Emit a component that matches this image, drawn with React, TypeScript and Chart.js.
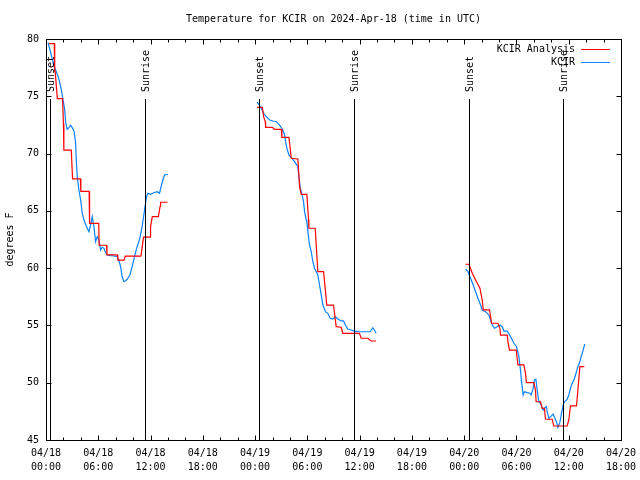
import React, { useEffect, useRef } from 'react';
import { Chart, registerables } from 'chart.js';

Chart.register(...registerables);

const titleText = 'Temperature for KCIR on 2024-Apr-18 (time in UTC)';
const yAxisLabel = 'degrees F';
const seriesLabels = ['KCIR Analysis', 'KCIR'];
const seriesColors = ['#ff0000', '#0a80ff'];

// x axis: hours since 04/18 00:00 UTC
const xMin = 0;
const xMax = 66;
const xTickDates = ['04/18', '04/18', '04/18', '04/18', '04/19', '04/19', '04/19', '04/19', '04/20', '04/20', '04/20', '04/20'];
const xTickTimes = ['00:00', '06:00', '12:00', '18:00', '00:00', '06:00', '12:00', '18:00', '00:00', '06:00', '12:00', '18:00'];
const yMin = 45;
const yMax = 80;

const sunEventLabels = ['Sunset', 'Sunrise', 'Sunset', 'Sunrise', 'Sunset', 'Sunrise'];
const sunEventHours = [0.46, 11.39, 24.46, 35.36, 48.55, 59.33];

// KCIR Analysis (red) – [hour, degF]
const analysisNight1 = [
  [0.35, 79.6], [0.95, 79.6], [1.0, 77.2], [1.05, 77.2], [1.3, 74.8], [1.9, 74.8], [2.0, 72.6], [2.05, 70.3],
  [2.9, 70.3], [3.05, 67.8], [3.95, 67.8], [4.0, 66.7], [4.95, 66.7], [5.0, 63.9], [6.05, 63.9], [6.1, 62.0],
  [6.95, 62.0], [7.0, 61.15], [8.2, 61.15], [8.25, 60.7], [8.95, 60.7], [9.1, 61.05], [10.9, 61.05], [11.2, 62.7],
  [11.95, 62.7], [12.0, 63.6], [12.2, 64.5], [12.9, 64.5], [13.1, 65.4], [13.15, 65.75], [13.95, 65.75],
];
const analysisNight2 = [
  [24.21, 74.04], [24.83, 74.04], [24.98, 73.22], [25.17, 72.78], [25.21, 72.29], [25.98, 72.29], [26.24, 72.12],
  [27.01, 72.12], [27.08, 71.42], [27.88, 71.42], [28.04, 70.4], [28.15, 69.59], [28.91, 69.53], [29.11, 67.11],
  [29.3, 66.44], [29.94, 66.44], [30.14, 64.2], [30.17, 63.48], [30.9, 63.48], [31.2, 59.69], [31.86, 59.69],
  [32.23, 56.78], [33.0, 56.78], [33.31, 54.89], [33.88, 54.84], [34.07, 54.31], [35.98, 54.31], [36.17, 53.88],
  [36.93, 53.88], [37.32, 53.64], [37.89, 53.64],
];
const analysisNight3 = [
  [48.16, 60.34], [48.55, 60.34], [48.93, 59.55], [49.31, 58.97], [49.81, 58.24], [50.07, 57.22], [50.19, 56.35],
  [50.91, 56.35], [51.03, 55.76], [51.14, 55.19], [51.87, 55.19], [52.1, 54.75], [52.17, 54.16], [52.94, 54.16],
  [53.05, 53.44], [53.2, 52.85], [53.97, 52.85], [54.17, 51.55], [54.85, 51.55], [55.04, 50.82], [55.15, 50.0],
  [56.0, 50.0], [56.18, 49.36], [56.26, 48.34], [56.76, 48.34], [56.95, 47.77], [57.21, 47.77], [57.33, 46.81],
  [58.1, 46.81], [58.29, 46.22], [59.82, 46.22], [60.01, 46.75], [60.2, 47.97], [60.89, 47.97], [61.05, 49.36],
  [61.28, 51.4], [61.79, 51.4],
];

// KCIR observations (blue) – [hour, degF]
const observedNight1 = [
  [0.23, 79.68], [0.54, 78.8], [0.92, 77.64], [1.23, 77.06], [1.49, 76.48], [1.75, 75.61], [1.98, 74.59],
  [2.14, 73.86], [2.26, 72.69], [2.44, 72.12], [2.64, 72.26], [2.83, 72.47], [3.01, 72.26], [3.21, 71.97],
  [3.4, 70.95], [3.47, 69.5], [3.59, 67.98], [3.78, 66.82], [3.98, 65.95], [4.16, 64.79], [4.35, 64.2],
  [4.66, 63.62], [4.93, 63.18], [5.12, 63.77], [5.31, 64.49], [5.5, 63.62], [5.69, 62.31], [5.88, 62.74],
  [6.07, 62.46], [6.27, 61.58], [6.45, 61.82], [6.65, 61.73], [6.84, 61.35], [7.02, 61.15], [7.41, 61.09],
  [7.79, 61.06], [8.17, 61.0], [8.36, 60.71], [8.56, 60.13], [8.74, 59.25], [8.94, 58.82], [9.13, 58.9],
  [9.32, 59.03], [9.63, 59.4], [9.89, 60.13], [10.16, 61.0], [10.46, 61.87], [10.77, 62.6], [11.03, 63.62],
  [11.23, 64.64], [11.42, 65.66], [11.54, 66.24], [11.69, 66.53], [12.0, 66.45], [12.38, 66.58], [12.75, 66.67],
  [13.03, 66.53], [13.21, 67.11], [13.41, 67.69], [13.6, 68.13], [13.98, 68.19],
];
const observedNight2 = [
  [24.21, 74.48], [24.44, 74.3], [24.72, 73.95], [24.98, 73.51], [25.29, 73.22], [25.67, 72.93], [26.05, 72.84],
  [26.44, 72.78], [26.81, 72.49], [27.19, 72.06], [27.39, 71.62], [27.5, 71.04], [27.65, 70.46], [27.88, 69.88],
  [28.15, 69.64], [28.53, 69.29], [28.91, 68.85], [29.03, 67.98], [29.19, 66.97], [29.41, 66.38], [29.56, 65.8],
  [29.68, 64.93], [29.87, 64.2], [29.94, 64.05], [30.06, 63.18], [30.25, 62.02], [30.45, 61.43], [30.63, 60.56],
  [30.82, 59.99], [31.2, 59.4], [31.4, 58.53], [31.59, 57.66], [31.78, 56.78], [32.08, 56.2], [32.35, 56.06],
  [32.62, 55.62], [32.92, 55.56], [33.23, 55.76], [33.49, 55.56], [33.88, 55.39], [34.15, 55.39], [34.37, 55.04],
  [34.64, 54.69], [35.03, 54.6], [35.41, 54.51], [35.98, 54.45], [37.21, 54.45], [37.51, 54.8], [37.7, 54.6],
  [37.89, 54.31],
];
const observedNight3 = [
  [48.16, 59.92], [48.44, 59.69], [48.73, 59.11], [49.04, 58.53], [49.31, 57.94], [49.58, 57.37], [49.88, 56.78],
  [50.07, 56.35], [50.45, 56.2], [50.84, 55.91], [51.03, 55.47], [51.22, 55.04], [51.49, 54.75], [51.79, 54.89],
  [52.1, 55.04], [52.37, 54.89], [52.56, 54.51], [52.94, 54.51], [53.32, 54.02], [53.71, 53.44], [54.01, 53.14],
  [54.28, 52.27], [54.46, 51.11], [54.58, 50.09], [54.77, 48.93], [54.92, 49.22], [55.23, 49.13], [55.54, 49.08],
  [55.69, 48.93], [55.92, 49.51], [56.07, 50.24], [56.23, 50.3], [56.38, 49.36], [56.57, 48.34], [56.75, 48.2],
  [57.06, 47.62], [57.21, 47.77], [57.44, 47.91], [57.52, 47.47], [57.72, 46.89], [57.98, 47.09], [58.21, 47.27],
  [58.36, 46.98], [58.59, 46.6], [58.75, 46.11], [58.98, 46.51], [59.13, 47.18], [59.36, 48.05], [59.51, 48.34],
  [59.82, 48.55], [60.01, 48.93], [60.2, 49.51], [60.4, 49.95], [60.59, 50.24], [60.78, 50.67], [61.05, 51.4],
  [61.28, 51.83], [61.43, 52.27], [61.66, 52.85], [61.84, 53.38],
];

const FONT = '"DejaVu Sans Mono", "Liberation Mono", monospace';

function joinSegments(segments: number[][][]) {
  const out: { x: number; y: number | null }[] = [];
  segments.forEach((seg, i) => {
    if (i > 0) out.push({ x: (seg[0][0] + segments[i - 1][segments[i - 1].length - 1][0]) / 2, y: null });
    seg.forEach(([x, y]) => out.push({ x, y }));
  });
  return out;
}

const decorPlugin = {
  id: 'decor',
  afterDraw(chart: any) {
    const ctx = chart.ctx;
    const { left, right, top, bottom } = chart.chartArea;
    const xs = chart.scales.x;
    const ys = chart.scales.y;
    const L = Math.round(left) + 0.5;
    const R = Math.round(right) + 0.5;
    const T = Math.round(top) + 0.5;
    const B = Math.round(bottom) + 0.5;
    ctx.save();
    ctx.strokeStyle = '#000';
    ctx.lineWidth = 1;
    // frame
    ctx.strokeRect(L, T, R - L, B - T);
    // x ticks (major every 6 h, minor every 2 h) on bottom and top, inward
    ctx.beginPath();
    for (let h = xMin; h <= xMax; h += 2) {
      const px = Math.round(xs.getPixelForValue(h)) + 0.5;
      const len = h % 6 === 0 ? 5 : 3;
      ctx.moveTo(px, B);
      ctx.lineTo(px, B - len);
      ctx.moveTo(px, T);
      ctx.lineTo(px, T + len);
    }
    for (const t of ys.ticks) {
      const py = Math.round(ys.getPixelForValue(t.value)) + 0.5;
      ctx.moveTo(L, py);
      ctx.lineTo(L + 5, py);
      ctx.moveTo(R, py);
      ctx.lineTo(R - 5, py);
    }
    ctx.stroke();
    // sunrise / sunset markers
    ctx.fillStyle = '#000';
    ctx.font = '10px ' + FONT;
    sunEventHours.forEach((h, i) => {
      const px = Math.round(xs.getPixelForValue(h)) + 0.5;
      ctx.beginPath();
      ctx.moveTo(px, top + 60);
      ctx.lineTo(px, B);
      ctx.stroke();
      ctx.save();
      ctx.translate(px + 1, top + 53);
      ctx.rotate(-Math.PI / 2);
      ctx.textAlign = 'left';
      ctx.textBaseline = 'middle';
      ctx.fillText(sunEventLabels[i], 0, 0);
      ctx.restore();
    });
    // legend (text then line sample, gnuplot style)
    chart.data.datasets.forEach((ds: any, i: number) => {
      const y = Math.round(top + 10 + i * 13) + 0.5;
      ctx.fillStyle = '#000';
      ctx.textAlign = 'right';
      ctx.textBaseline = 'middle';
      ctx.fillText(ds.label, right - 46, y);
      ctx.strokeStyle = ds.borderColor;
      ctx.beginPath();
      ctx.moveTo(right - 40, y);
      ctx.lineTo(right - 11, y);
      ctx.stroke();
    });
    ctx.restore();
  },
};

export default function App() {
  const ref = useRef<HTMLCanvasElement>(null);
  useEffect(() => {
    if (!ref.current) return;
    const chart = new Chart(ref.current, {
      type: 'line',
      data: {
        datasets: [
          {
            label: seriesLabels[0],
            data: joinSegments([analysisNight1, analysisNight2, analysisNight3]),
            borderColor: seriesColors[0],
            borderWidth: 1.2,
            pointRadius: 0,
            spanGaps: false,
            tension: 0,
          },
          {
            label: seriesLabels[1],
            data: joinSegments([observedNight1, observedNight2, observedNight3]),
            borderColor: seriesColors[1],
            borderWidth: 1.2,
            pointRadius: 0,
            spanGaps: false,
            tension: 0,
          },
        ],
      },
      options: {
        responsive: false,
        animation: false,
        layout: { padding: { right: 19, top: 0, left: 0, bottom: 0 } },
        plugins: {
          legend: { display: false },
          tooltip: { enabled: false },
          title: {
            display: true,
            text: titleText,
            fullSize: false,
            color: '#000',
            font: { family: FONT, size: 10, weight: 'normal', lineHeight: 1.2 },
            padding: { top: 13, bottom: 14 },
          },
        },
        scales: {
          x: {
            type: 'linear',
            min: xMin,
            max: xMax,
            grid: { display: false, drawTicks: false },
            border: { display: false },
            afterFit: (s: any) => {
              s.height = 40;
              s.paddingLeft = 0;
              s.paddingRight = 0;
            },
            ticks: {
              stepSize: 6,
              autoSkip: false,
              maxRotation: 0,
              padding: 6,
              color: '#000',
              font: { family: FONT, size: 10, lineHeight: 1.4 },
              callback: (v: any) => {
                const i = Math.round(Number(v) / 6);
                return [xTickDates[i] ?? '', xTickTimes[i] ?? ''];
              },
            },
          },
          y: {
            min: yMin,
            max: yMax,
            grid: { display: false, drawTicks: false },
            border: { display: false },
            afterFit: (s: any) => { s.width = 46; },
            title: {
              display: true,
              text: yAxisLabel,
              color: '#000',
              font: { family: FONT, size: 10, lineHeight: 1.2 },
              padding: { top: 4, bottom: 0 },
            },
            ticks: {
              stepSize: 5,
              padding: 7,
              color: '#000',
              font: { family: FONT, size: 10 },
            },
          },
        },
      },
      plugins: [decorPlugin],
    });
    return () => chart.destroy();
  }, []);
  return (
    <div style={{ position: 'absolute', left: 0, top: 0, width: 640, height: 480, background: '#fff' }}>
      <canvas ref={ref} width={640} height={480} />
    </div>
  );
}
